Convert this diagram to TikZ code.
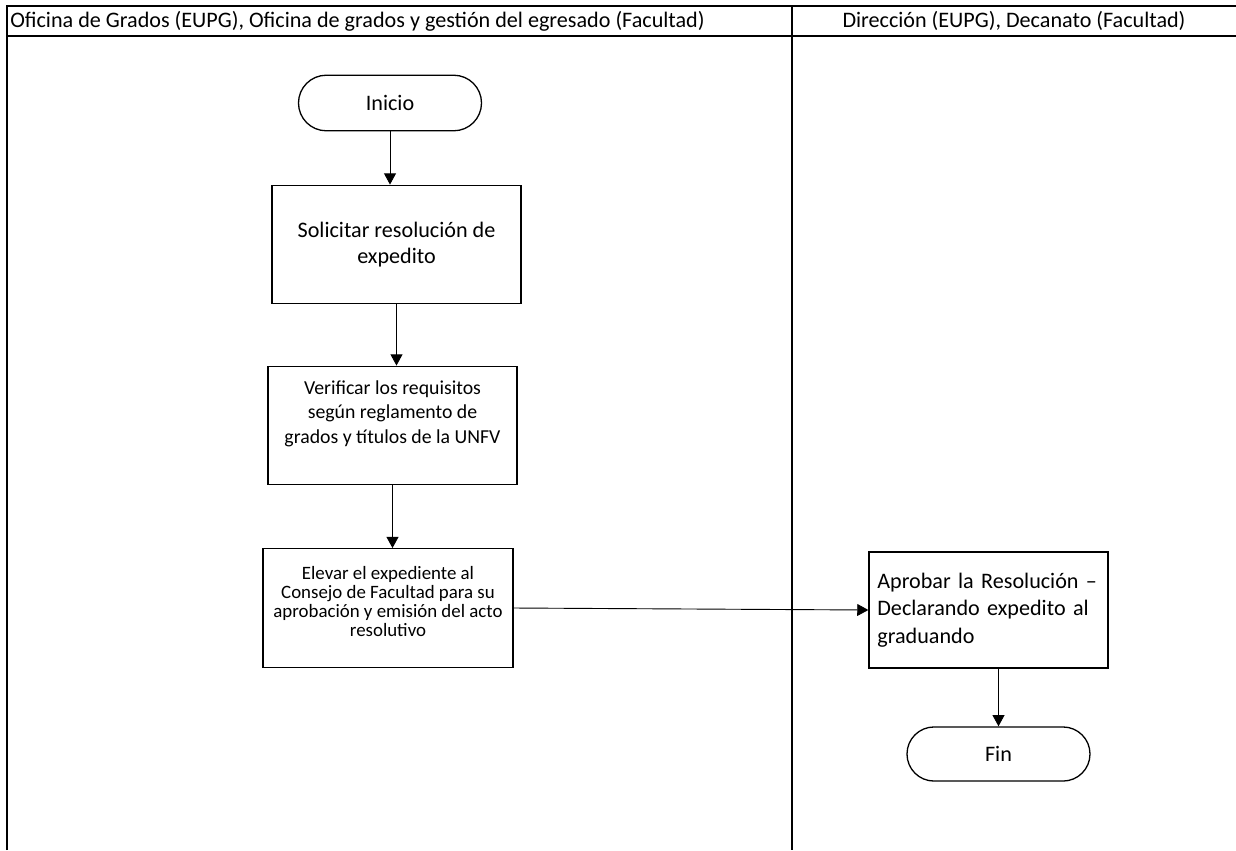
\documentclass[tikz,border=0pt]{standalone}
\usepackage{fontspec}
\setmainfont{Carlito}
\usepackage{tikz}
\usetikzlibrary{arrows.meta,positioning,calc}

\begin{document}
\begin{tikzpicture}[
  x=0.027cm,y=-0.027cm,
  font=\fontsize{17}{20}\selectfont,
  lane/.style={line width=1.3pt},
  box/.style={draw,line width=1pt,align=center,inner sep=3pt,minimum width=6.72cm,minimum height=3.2cm},
  term/.style={draw,line width=1pt,minimum width=4.94cm,minimum height=1.46cm,rounded corners=0.73cm},
  flow/.style={-{Triangle[length=0.3cm,width=0.32cm]},line width=0.7pt},
]
\useasboundingbox (0,0) rectangle (1236,850);
\draw[lane] (7,850) -- (7,6) -- (1236,6);
\draw[lane] (7,36) -- (1236,36);
\draw[lane] (792,6) -- (792,850);
\node[anchor=west,inner sep=0pt] (lane1) at (10,21) {Oficina de Grados (EUPG), Oficina de grados y gestión del egresado (Facultad)};
\node[inner sep=0pt] (lane2) at (1014,21) {Dirección (EUPG), Decanato (Facultad)};

\node[term,minimum height=1.5cm,rounded corners=0.75cm] (inicio) at (390,103) {Inicio};
\node[box] (b1) at (396.5,244.5) {Solicitar resolución de\\expedito};
\node[box,font=\fontsize{15.2}{18.6}\selectfont] (b2) at (392.5,425.5) {Verificar los requisitos\\según reglamento de\\grados y títulos de la UNFV\\[2pt]};
\node[box,minimum width=6.75cm,font=\fontsize{14.5}{14.6}\selectfont] (b3) at (388,608) {Elevar el expediente al\\Consejo de Facultad para su\\aprobación y emisión del acto\\resolutivo\\[-4pt]};
\node[box,minimum width=6.45cm,minimum height=3.13cm,align=left,text width=6cm,inner xsep=0.225cm,font=\fontsize{17}{21}\selectfont] (b4) at (988.5,610) {Aprobar la Resolución~--\\Declarando expedito al\\graduando\\[-6pt]};
\node[term] (fin) at (998.5,754) {Fin};

\draw[flow] (inicio.south) -- (inicio.south |- b1.north);
\draw[flow] (b1.south) -- (b1.south |- b2.north);
\draw[flow] (b2.south) -- (b2.south |- b3.north);
\draw[flow] (b3.east) -- (b4.west);
\draw[flow] (fin.north |- b4.south) -- (fin.north);
\end{tikzpicture}
\end{document}
